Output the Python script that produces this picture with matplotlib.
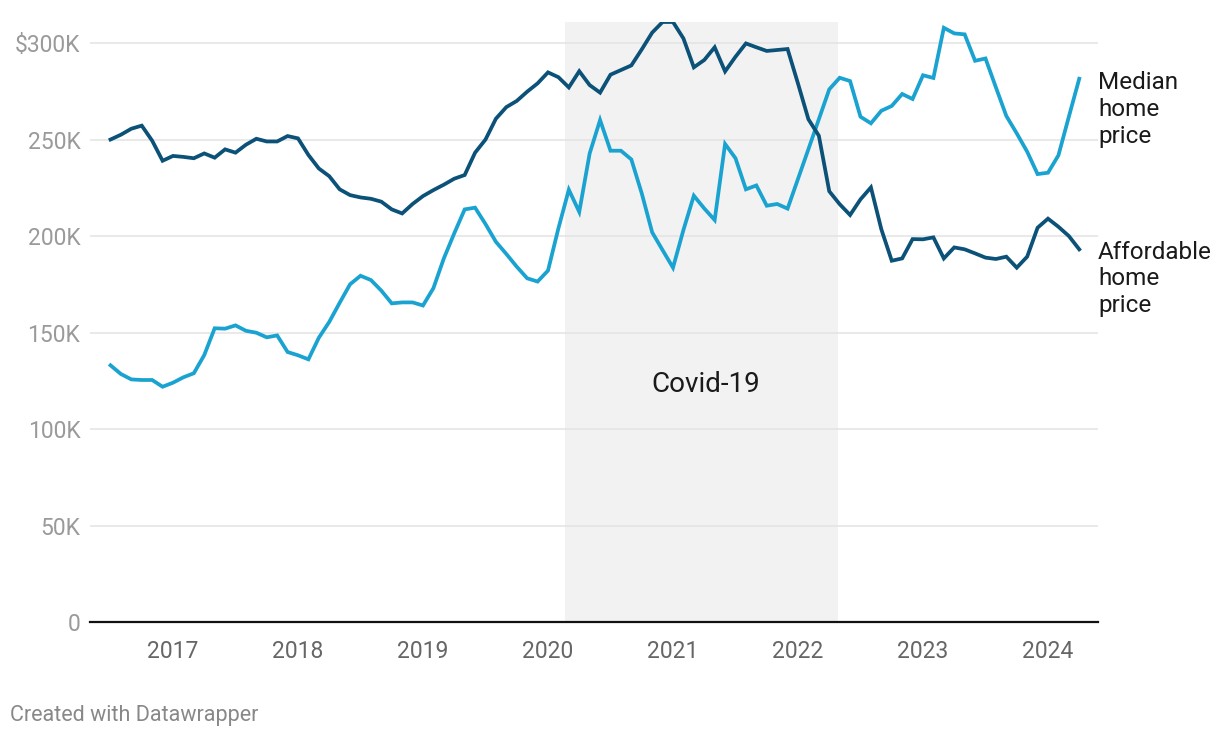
#
# Median vs affordable home price, monthly (values in $K)
#
import matplotlib
matplotlib.use('Agg')
import matplotlib.pyplot as plt
import pandas as pd

plt.rcParams['font.family'] = ['Roboto', 'DejaVu Sans']

#
# data
#
months = pd.date_range('2016-07-01', periods=94, freq='MS')

median_price = [
    133.0, 128.5, 125.7, 125.4, 125.4, 121.9, 124.0, 126.8, 128.9, 138.3,
    152.2, 152.0, 153.7, 150.9, 149.9, 147.5, 148.5, 139.9, 138.2, 136.1,
    147.3, 155.5, 165.4, 175.0, 179.4, 177.2, 171.7, 165.1, 165.6, 165.6,
    164.0, 173.0, 188.4, 201.4, 213.8, 214.7, 206.2, 197.0, 190.7, 184.1,
    178.1, 176.4, 182.1, 204.0, 224.0, 212.5, 242.8, 260.1, 244.2, 244.2,
    239.7, 222.1, 201.9, 192.7, 183.6, 203.1, 220.9, 214.3, 208.3, 247.7,
    240.3, 224.2, 226.2, 215.7, 216.6, 214.2, 229.6, 245.0, 260.5, 276.0,
    282.0, 280.3, 261.8, 258.4, 264.9, 267.4, 273.6, 271.0, 283.3, 281.9,
    307.9, 305.0, 304.5, 290.8, 292.0, 277.0, 262.2, 253.2, 243.7, 232.1,
    232.8, 241.8, 261.8, 281.5,
]

affordable_price = [
    250.0, 252.5, 255.6, 257.2, 249.4, 239.0, 241.5, 241.0, 240.3, 242.8,
    240.6, 244.9, 243.2, 247.3, 250.4, 249.0, 249.0, 251.8, 250.6, 242.0,
    235.0, 231.0, 224.2, 221.2, 220.0, 219.3, 217.8, 213.8, 211.7, 216.6,
    220.7, 223.8, 226.6, 229.7, 231.6, 243.2, 250.0, 260.8, 266.8, 270.0,
    274.8, 279.1, 284.8, 282.3, 277.0, 285.4, 278.2, 274.3, 283.6, 286.0,
    288.4, 296.7, 305.4, 310.9, 310.9, 302.4, 287.4, 291.2, 297.8, 285.3,
    292.9, 299.8, 297.8, 295.9, 296.4, 296.9, 279.0, 260.5, 252.0, 223.2,
    216.5, 210.9, 219.0, 225.2, 203.5, 187.2, 188.4, 198.4, 198.3, 199.3,
    188.4, 194.1, 193.1, 191.0, 188.8, 188.1, 189.3, 183.6, 189.3, 204.3,
    209.0, 204.8, 200.0, 193.1,
]

years = [2017, 2018, 2019, 2020, 2021, 2022, 2023, 2024]
y_ticks = [0, 50, 100, 150, 200, 250, 300]
y_labels = ['0', '50K', '100K', '150K', '200K', '250K', '$300K']

covid_start = 2020.136
covid_end = 2022.32

#
# decimal year for each month
#
x = [m.year + (m.month - 1) / 12 for m in months]

#
# figure
#
fig = plt.figure(figsize=(12.2, 7.38), dpi=100)
ax = fig.add_axes([90 / 1220, 1 - 622 / 738, 1008 / 1220, 600 / 738])

ax.axvspan(covid_start, covid_end, color='#f2f2f2', zorder=0, lw=0)
ax.text((covid_start + covid_end) / 2 + 0.035, 123.3, 'Covid-19',
        ha='center', va='center', fontsize=20, color='#1a1a1a')

ax.plot(x, median_price, color='#1aa3d0', lw=2.7, solid_joinstyle='miter', zorder=3)
ax.plot(x, affordable_price, color='#0b5178', lw=2.7, solid_joinstyle='miter', zorder=4)

ax.set_xlim(2016.336, 2024.4)
ax.set_ylim(0, 310.9)

ax.set_yticks(y_ticks)
ax.set_yticklabels(y_labels)
ax.set_xticks(years)
ax.set_xticklabels([str(y) for y in years])

ax.grid(axis='y', color='#e3e3e3', lw=1.1)
ax.set_axisbelow(True)
for s in ['top', 'right', 'left']:
    ax.spines[s].set_visible(False)
ax.spines['bottom'].set_color('#111111')
ax.spines['bottom'].set_linewidth(1.6)
ax.spines['bottom'].set_zorder(5)

ax.tick_params(axis='y', length=0, pad=7, labelsize=16.5, labelcolor='#9a9a9a')
ax.tick_params(axis='x', length=0, pad=13, labelsize=16.5, labelcolor='#666666')

#
# line labels
#
ax.text(2024.4, 265.6, 'Median\nhome\nprice', ha='left', va='center',
        fontsize=17.5, color='#1a1a1a', linespacing=1.2)
ax.text(2024.4, 177.8, 'Affordable\nhome\nprice', ha='left', va='center',
        fontsize=17.5, color='#1a1a1a', linespacing=1.2)

fig.text(10 / 1220, 1 - 715 / 738, 'Created with Datawrapper', ha='left', va='center',
         fontsize=15.5, color='#888888')

fig.savefig('out.png', dpi=100)
